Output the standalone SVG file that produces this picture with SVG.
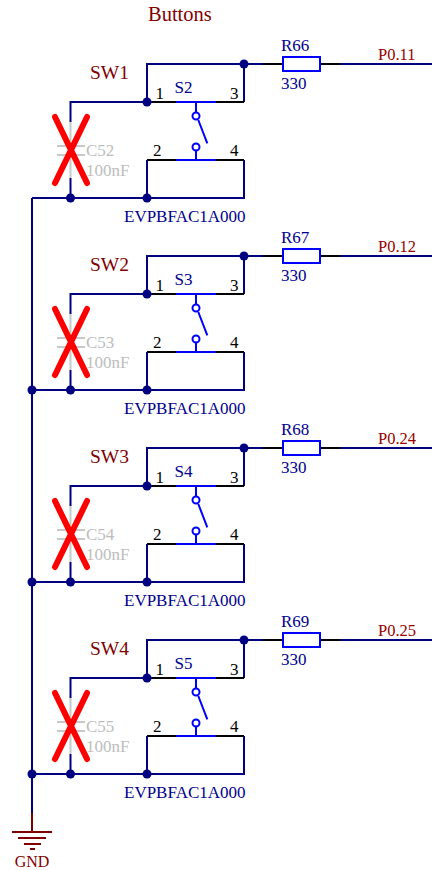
<svg xmlns="http://www.w3.org/2000/svg" xmlns:xlink="http://www.w3.org/1999/xlink" width="432" height="870" viewBox="0 0 432 870">
<style>
text{font-family:"Liberation Serif","Times New Roman",serif;font-size:17px}
.w{fill:none;stroke:#000080;stroke-width:2}
.b{fill:none;stroke:#0000ff;stroke-width:2}
.k{fill:none;stroke:#000;stroke-width:2}
.g{fill:none;stroke:#c8c8c8;stroke-width:2}
.x{fill:none;stroke:#ff0000;stroke-width:6;stroke-linecap:round}
.j{fill:#000080}
.s{fill:#000090}
.d{fill:#000}
.h{fill:#bdbdbd}
.r{fill:#800000;font-size:20.500px}
.n{fill:#990000;font-size:16.500px}
.gn{fill:none;stroke:#800000;stroke-width:2}
</style>
<defs>
<g id="switch">
<path class="k" d="M152 102H176M216 102H244M147 160H176M216 160H244"/>
<path class="b" d="M176 102H216M176 160H216M196 102V112.500M196 150.500V160M198.300 120L207.300 143.300"/>
<circle class="b" cx="196" cy="116" r="3.500"/>
<circle class="b" cx="196" cy="147" r="3.500"/>
<text class="d" x="155.500" y="99">1</text>
<text class="d" x="153" y="156">2</text>
<text class="d" x="230" y="99">3</text>
<text class="d" x="230" y="156">4</text>
<text class="s" x="124" y="222">EVPBFAC1A000</text>
</g>
<g id="cap">
<path class="g" d="M70.500 122V178M57 146H85M57 155H85"/>
<path class="x" d="M55 117L87 183M87 117L55 183"/>
</g>
<g id="res">
<path class="k" d="M263 64H283M320 64H340"/>
<rect class="b" x="283" y="57" width="37" height="14"/>
</g>
<g id="wires">
<path class="w" d="M244 64H263M340 64H432M147 102V64H244V102M70.500 122V102H152M70.500 178V198H147M147 198V160M147 198H244V160M32 198H70.500"/>
<circle class="j" cx="147" cy="102" r="4.500"/>
<circle class="j" cx="244" cy="64" r="4.500"/>
<circle class="j" cx="70.500" cy="198" r="4.500"/>
<circle class="j" cx="147" cy="198" r="4.500"/>
</g>
</defs>
<text id="title" class="r" x="148" y="21">Buttons</text>
<g id="connectors">
<use xlink:href="#wires" href="#wires"/>
<use xlink:href="#wires" href="#wires" transform="translate(0,192)"/>
<use xlink:href="#wires" href="#wires" transform="translate(0,384)"/>
<use xlink:href="#wires" href="#wires" transform="translate(0,576)"/>
<path class="w" d="M32 198V814"/>
<path class="gn" d="M32 813V832"/>
<circle class="j" cx="32" cy="390" r="4.500"/>
<circle class="j" cx="32" cy="582" r="4.500"/>
<circle class="j" cx="32" cy="774" r="4.500"/>
</g>
<g id="SW1"><use xlink:href="#switch" href="#switch"/><text class="r" x="90" y="79" style="font-size:19.500px">SW1</text><text class="s" x="174.500" y="93">S2</text></g>
<g id="C52"><use xlink:href="#cap" href="#cap"/><text class="h" x="86" y="156">C52</text><text class="h" x="86" y="176">100nF</text></g>
<g id="R66"><use xlink:href="#res" href="#res"/><text class="s" x="281" y="51">R66</text><text class="s" x="281" y="89">330</text><text class="n" x="378" y="60">P0.11</text></g>
<g id="SW2" transform="translate(0,192)"><use xlink:href="#switch" href="#switch"/><text class="r" x="90" y="79" style="font-size:19.500px">SW2</text><text class="s" x="174.500" y="93">S3</text></g>
<g id="C53" transform="translate(0,192)"><use xlink:href="#cap" href="#cap"/><text class="h" x="86" y="156">C53</text><text class="h" x="86" y="176">100nF</text></g>
<g id="R67" transform="translate(0,192)"><use xlink:href="#res" href="#res"/><text class="s" x="281" y="51">R67</text><text class="s" x="281" y="89">330</text><text class="n" x="378" y="60">P0.12</text></g>
<g id="SW3" transform="translate(0,384)"><use xlink:href="#switch" href="#switch"/><text class="r" x="90" y="79" style="font-size:19.500px">SW3</text><text class="s" x="174.500" y="93">S4</text></g>
<g id="C54" transform="translate(0,384)"><use xlink:href="#cap" href="#cap"/><text class="h" x="86" y="156">C54</text><text class="h" x="86" y="176">100nF</text></g>
<g id="R68" transform="translate(0,384)"><use xlink:href="#res" href="#res"/><text class="s" x="281" y="51">R68</text><text class="s" x="281" y="89">330</text><text class="n" x="378" y="60">P0.24</text></g>
<g id="SW4" transform="translate(0,576)"><use xlink:href="#switch" href="#switch"/><text class="r" x="90" y="79" style="font-size:19.500px">SW4</text><text class="s" x="174.500" y="93">S5</text></g>
<g id="C55" transform="translate(0,576)"><use xlink:href="#cap" href="#cap"/><text class="h" x="86" y="156">C55</text><text class="h" x="86" y="176">100nF</text></g>
<g id="R69" transform="translate(0,576)"><use xlink:href="#res" href="#res"/><text class="s" x="281" y="51">R69</text><text class="s" x="281" y="89">330</text><text class="n" x="378" y="60">P0.25</text></g>
<g id="GND">
<path class="gn" d="M12 832H52M18 838H46M24 844H41M30 849H35"/>
<text x="32" y="867" text-anchor="middle" fill="#800000" style="font-size:16px">GND</text>
</g>
</svg>
